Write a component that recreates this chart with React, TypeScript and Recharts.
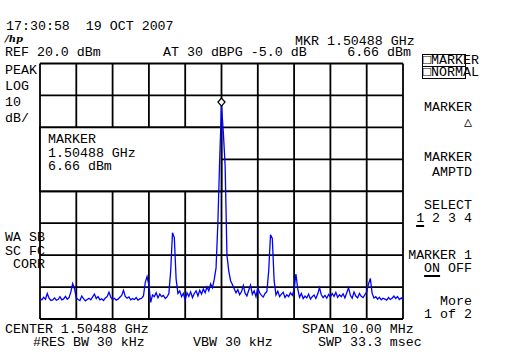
import { LineChart, Line, XAxis, YAxis, ReferenceLine, ReferenceArea, ReferenceDot } from 'recharts';

// sweep: offset from centre frequency, in MHz
const START_MHZ = -5;
const STEP_MHZ = 0.05;

// trace levels in dBm, one per sweep bin
const levels = [
    -53.6, -54.0, -53.2, -53.8, -52.0, -53.5, -54.2, -54.0, -53.4, -54.1,
    -53.9, -53.0, -54.0, -53.7, -52.9, -53.8, -53.3, -51.5, -48.9, -50.5,
    -53.4, -53.9, -54.2, -52.8, -53.6, -54.3, -53.9, -53.5, -54.0, -53.1,
    -52.2, -53.6, -53.0, -54.0, -53.7, -54.2, -53.4, -53.0, -51.6, -53.2,
    -53.9, -53.5, -54.1, -53.8, -53.2, -52.6, -51.0, -52.9, -53.5, -53.1,
    -54.0, -53.6, -53.9, -53.3, -54.1, -53.7, -53.5, -52.8, -48.5, -46.7,
    -49.5, -54.8, -52.5, -53.0, -51.8, -53.4, -52.2, -53.0, -52.6, -53.6,
    -53.1, -52.0, -45.0, -33.0, -34.5, -47.5, -52.0, -51.2, -53.0, -52.0,
    -54.0, -51.8, -52.9, -51.5, -53.3, -52.0, -51.2, -52.8, -51.0, -52.2,
    -50.6, -51.8, -50.0, -51.2, -49.0, -50.2, -47.6, -44.0, -30.0, -10.0,
    6.66,
    -1.5, -12.0, -40.0, -45.0, -48.0, -49.2, -50.5, -51.8, -50.8,
    -52.4, -51.5, -49.5, -51.9, -52.8, -51.0, -49.4, -52.3, -51.2, -53.0,
    -50.2, -51.8, -52.6, -53.1, -52.0, -51.4, -45.0, -33.6, -34.8, -48.0,
    -52.5, -51.3, -53.0, -52.2, -51.6, -53.3, -52.4, -53.0, -51.8, -52.6,
    -50.8, -45.9, -50.5, -53.2, -52.0, -53.6, -52.8, -53.4, -52.2, -53.8,
    -53.0, -52.5, -53.6, -52.2, -50.2, -52.4, -53.3, -52.6, -53.5, -52.3,
    -53.1, -52.0, -52.9, -51.7, -53.2, -52.4, -53.0, -52.1, -53.4, -51.8,
    -50.2, -52.6, -53.5, -51.6, -52.8, -53.4, -52.0, -52.9, -53.3, -52.4,
    -51.5, -49.0, -47.3, -52.0, -53.4, -53.0, -53.8, -53.2, -54.0, -53.5,
    -53.8, -54.1, -53.3, -53.9, -53.5, -52.8, -53.6, -53.0, -53.9, -53.4, -54.0,
];

// graticule: 1 MHz/div and 10 dB/div
const freqTicks = [-5, -4, -3, -2, -1, 0, 1, 2, 3, 4, 5];
const dbTicks = [20, 10, 0, -10, -20, -30, -40, -50, -60];

const markerMHz = 0;
const markerDbm = 6.66;

const data = levels.map((v, i) => ({ f: START_MHZ + i * STEP_MHZ, level: v }));

const FONT = "'Liberation Mono', 'DejaVu Sans Mono', monospace";

// y is the middle of the capitals
function T({ x, y, children, right }: { x: number; y: number; children: any; right?: boolean }) {
    const style: any = {
        position: 'absolute',
        top: y - 4.6,
        fontSize: 13.3,
        lineHeight: '11px',
        whiteSpace: 'pre',
        color: '#000',
    };
    if (right) style.right = 512 - x;
    else style.left = x;
    return <div style={style}>{children}</div>;
}

const Diamond = (props: any) => {
    const { cx, cy } = props;
    const y = cy - 4;
    return (
        <path
            d={`M${cx},${y - 4}L${cx + 3.5},${y}L${cx},${y + 4}L${cx - 3.5},${y}Z`}
            fill="#fff"
            stroke="#000"
            strokeWidth={1.3}
        />
    );
};

const ul = { textDecoration: 'underline', textDecorationThickness: '2px', textUnderlineOffset: '3px' };

export default function App() {
    return (
        <div style={{ position: 'absolute', left: 0, top: 0, width: 512, height: 361, background: '#fff', fontFamily: FONT }}>
            <LineChart width={512} height={361} data={data} margin={{ top: 63.5, right: 109, bottom: 42, left: 40 }}>
                <XAxis dataKey="f" type="number" domain={[-5, 5]} ticks={freqTicks} hide />
                <YAxis type="number" domain={[-60, 20]} ticks={dbTicks} hide />
                {freqTicks.map((v) => (
                    <ReferenceLine key={'x' + v} x={v} stroke="#000" strokeWidth={1.8} zIndex={-100} />
                ))}
                {dbTicks.map((v) => (
                    <ReferenceLine key={'y' + v} y={v} stroke="#000" strokeWidth={1.8} zIndex={-100} />
                ))}
                <ReferenceArea x1={-5} x2={0} y1={-20} y2={0} fill="#fff" fillOpacity={1} stroke="#000" strokeWidth={1.8} zIndex={50} />
                <Line type="linear" dataKey="level" stroke="#0000ff" strokeWidth={1.3} dot={false} isAnimationActive={false} />
                <ReferenceDot x={markerMHz} y={markerDbm} shape={Diamond} />
            </LineChart>

            <T x={6} y={26}>17:30:58  19 OCT 2007</T>
            <div style={{ position: 'absolute', left: 5, top: 34, fontSize: 10, fontStyle: 'italic', fontWeight: 'bold', fontFamily: 'DejaVu Serif', lineHeight: '9px' }}>/hp</div>
            <T x={295} y={41}>MKR 1.50488 GHz</T>
            <T x={5} y={52}>REF 20.0 dBm</T>
            <T x={163} y={52}>AT 30 dBPG -5.0 dB</T>
            <T x={411} y={52} right>6.66 dBm</T>

            <T x={5} y={70}>PEAK</T>
            <T x={5} y={86}>LOG</T>
            <T x={5} y={102}>10</T>
            <T x={5} y={117.5}>dB/</T>

            <div style={{ position: 'absolute', left: 422, top: 54, width: 44, height: 25, border: '1px solid #000', boxSizing: 'border-box' }} />
            <div style={{ position: 'absolute', left: 422, top: 66, width: 44, height: 1, background: '#000' }} />
            <T x={423} y={60}>□MARKER</T>
            <T x={423} y={72}>□NORMAL</T>

            <T x={48} y={139}>MARKER</T>
            <T x={48} y={152.5}>1.50488 GHz</T>
            <T x={48} y={166}>6.66 dBm</T>

            <T x={472} y={107} right>MARKER</T>
            <T x={472} y={122} right>△</T>
            <T x={472} y={157} right>MARKER</T>
            <T x={472} y={172} right>AMPTD</T>
            <T x={472} y={205} right>SELECT</T>
            <T x={472} y={218} right><span style={ul}>1</span> 2 3 4</T>
            <T x={472} y={255} right>MARKER 1</T>
            <T x={472} y={268} right><span style={ul}>ON</span> OFF</T>
            <T x={472} y={301} right>More</T>
            <T x={472} y={314} right>1 of 2</T>

            <T x={5} y={237}>WA SB</T>
            <T x={5} y={251}>SC FC</T>
            <T x={5} y={264}> CORR</T>

            <T x={5} y={329}>CENTER 1.50488 GHz</T>
            <T x={302} y={329}>SPAN 10.00 MHz</T>
            <T x={33} y={342}>#RES BW 30 kHz</T>
            <T x={193} y={342}>VBW 30 kHz</T>
            <T x={318} y={342}>SWP 33.3 msec</T>
        </div>
    );
}
